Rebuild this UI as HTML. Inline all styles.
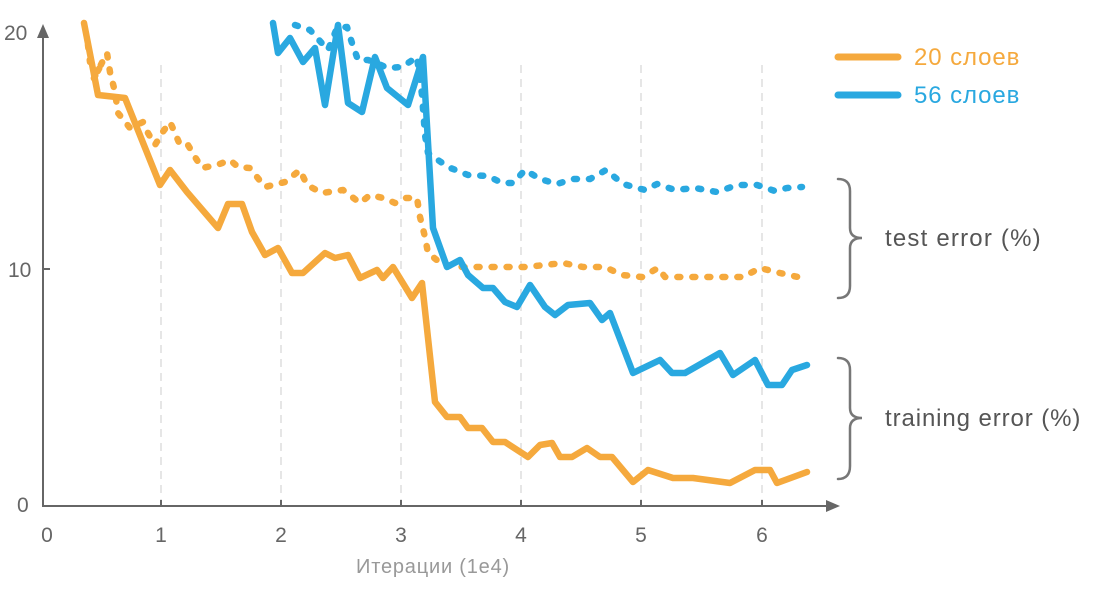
<!DOCTYPE html>
<html><head><meta charset="utf-8"><style>
html,body{margin:0;padding:0;background:#fff;}
svg{display:block;font-family:"Liberation Sans",sans-serif;}
</style></head><body>
<svg width="1100" height="600" viewBox="0 0 1100 600">
<g stroke="#ddd" stroke-width="1.5" stroke-dasharray="8 6">
<line x1="161" y1="65" x2="161" y2="503"/><line x1="281" y1="65" x2="281" y2="503"/>
<line x1="401" y1="65" x2="401" y2="503"/><line x1="521" y1="65" x2="521" y2="503"/>
<line x1="641" y1="65" x2="641" y2="503"/><line x1="762" y1="65" x2="762" y2="503"/>
</g>
<g stroke="#666" stroke-width="2" fill="none">
<line x1="43" y1="506" x2="43" y2="30"/><line x1="42" y1="506" x2="832" y2="506"/>
<line x1="43" y1="269" x2="50" y2="269"/>
<line x1="161" y1="506" x2="161" y2="500"/><line x1="281" y1="506" x2="281" y2="500"/><line x1="401" y1="506" x2="401" y2="500"/><line x1="521" y1="506" x2="521" y2="500"/><line x1="641" y1="506" x2="641" y2="500"/><line x1="762" y1="506" x2="762" y2="500"/>
</g>
<polygon points="43,24 37,38 49,38" fill="#666"/>
<polygon points="840,506 826,500 826,512" fill="#666"/>
<g fill="#666" font-size="21">
<text x="4" y="40">20</text><text x="8" y="277">10</text><text x="17" y="512">0</text>
<g text-anchor="middle"><text x="47" y="542">0</text><text x="161" y="542">1</text><text x="281" y="542">2</text><text x="401" y="542">3</text><text x="521" y="542">4</text><text x="641" y="542">5</text><text x="762" y="542">6</text></g>
<text x="433" y="573" text-anchor="middle" font-size="20" letter-spacing="0.8" fill="#999">Итерации (1e4)</text>
</g>
<g fill="none" stroke-width="6.5" stroke-linejoin="round" stroke-linecap="round">
<polyline stroke="#f5a93d" stroke-dasharray="3 12" points="88,45 90,62 100,67 93,80 107,53 110,72 115,92 118,113 130,128 143,122 148,133 155,145 162,133 170,122 175,133 180,145 188,145 195,157 202,168 217,165 230,160 238,167 250,168 257,177 265,187 285,182 300,170 307,185 322,193 343,190 360,203 370,195 383,198 395,203 405,198 417,198 420,217 425,237 428,253 443,265 463,267 485,267 505,267 525,267 545,265 563,263 583,267 605,267 622,275 642,277 658,268 665,277 685,277 705,277 725,277 743,277 760,268 780,273 798,277"/>
<polyline stroke="#29a8e0" stroke-dasharray="3 12" points="295,25 310,30 328,50 337,28 347,27 352,43 358,60 368,60 377,63 387,68 402,67 417,57 422,95 425,135 428,153 448,167 468,175 488,176 502,183 513,183 525,170 540,179 557,184 573,179 590,179 606,170 623,184 645,190 657,184 675,190 695,188 717,192 737,185 757,185 775,191 787,188 802,187"/>
<polyline stroke="#f5a93d" points="84,23 98,95 125,98 160,185 170,170 187,192 218,228 228,204 242,204 252,232 265,255 278,248 292,273 303,273 325,253 335,258 348,255 360,278 377,270 383,278 393,267 412,298 422,283 435,402 447,417 460,417 468,428 482,428 493,442 505,442 528,457 540,445 552,443 560,457 572,457 587,448 600,457 612,457 633,482 648,470 673,478 693,478 730,483 755,470 770,470 777,483 807,472"/>
<polyline stroke="#29a8e0" points="273,23 278,53 290,38 303,62 315,48 325,105 338,25 348,103 362,112 375,57 387,88 408,105 423,57 433,228 447,267 460,260 468,275 483,288 493,288 505,302 517,307 530,285 545,307 555,315 568,305 590,303 602,320 610,313 633,373 660,360 672,373 685,373 720,353 733,375 755,360 768,385 782,385 792,370 807,365"/>
<line x1="838" y1="57" x2="898" y2="57" stroke="#f5a93d" stroke-width="7"/>
<line x1="838" y1="95" x2="898" y2="95" stroke="#29a8e0" stroke-width="7"/>
</g>
<text x="914" y="65" font-size="24" letter-spacing="0.9" fill="#f5a93d">20 слоев</text>
<text x="914" y="103" font-size="24" letter-spacing="0.9" fill="#29a8e0">56 слоев</text>
<g fill="none" stroke="#777" stroke-width="2.5" stroke-linecap="round">
<path d="M838,179 Q850,179 850,191 L850,228 Q850,238 862,238 Q850,238 850,248 L850,286 Q850,298 838,298"/>
<path d="M838,358 Q850,358 850,370 L850,408 Q850,418 862,418 Q850,418 850,428 L850,466 Q850,479 838,479"/>
</g>
<text x="885" y="246" font-size="24" letter-spacing="1.2" fill="#555">test error (%)</text>
<text x="885" y="426" font-size="24" letter-spacing="0.9" fill="#555">training error (%)</text>
</svg>
</body></html>
